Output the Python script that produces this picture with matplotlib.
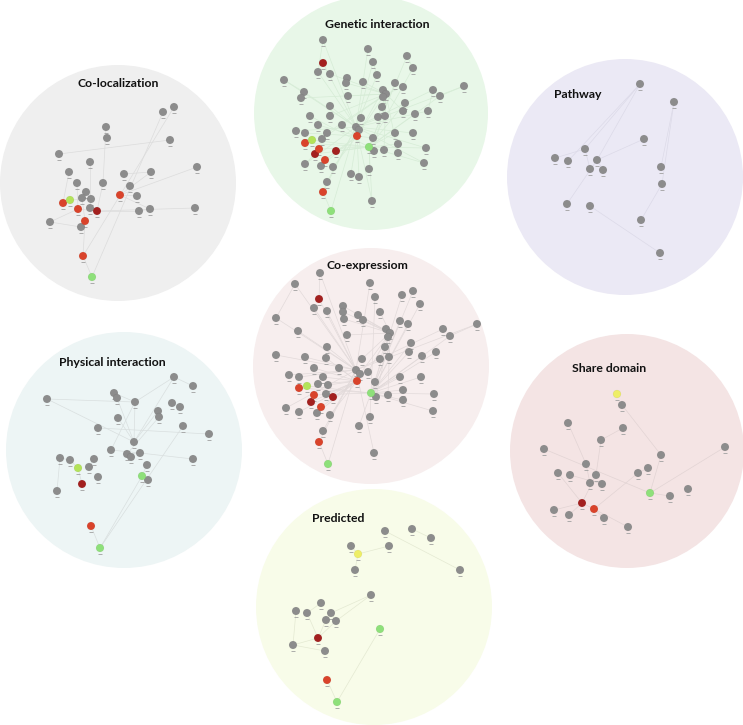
import matplotlib.pyplot as plt
from matplotlib.patches import Circle

# panel names
titles = ["Genetic interaction", "Co-localization", "Pathway", "Co-expressiom",
          "Physical interaction", "Share domain", "Predicted"]

# node positions (image pixels) and kinds: g gray, d dark red, r red, l light green, o green, y yellow
gen_x = [323, 368, 373, 407, 413, 318, 330, 347, 346, 284, 363, 377, 395, 403, 433, 464, 440, 304, 301, 348,
         383, 386, 383, 405, 330, 382, 403, 428, 310, 330, 361, 378, 385, 415, 318, 342, 356, 359, 296, 305,
         327, 395, 413, 373, 322, 398, 374, 384, 398, 426, 305, 321, 333, 424, 369, 351, 359, 327, 372,
         323, 336, 315, 357, 305, 319, 325, 323, 312, 369, 331]
gen_y = [40, 49, 62, 56, 68, 72, 74, 78, 83, 80, 82, 75, 83, 87, 90, 86, 96, 92, 98, 96,
         90, 94, 97, 103, 106, 107, 111, 111, 116, 116, 118, 117, 116, 114, 125, 125, 127, 130, 131, 133,
         133, 133, 133, 138, 139, 144, 151, 150, 153, 148, 164, 166, 167, 163, 169, 174, 177, 182, 201,
         63, 151, 154, 136, 143, 149, 160, 192, 140, 147, 211]
gen_k = "g" * 59 + "ddd" + "rrrrr" + "loo"
gen_e = ("36-0 36-1 36-2 36-5 36-9 36-11 36-15 36-17 36-24 36-27 36-38 36-42 36-50 36-53 36-57 36-58 36-59 "
         "36-66 36-69 36-14 36-49 68-3 68-4 68-12 68-16 68-23 68-33 68-41 68-45 68-49 68-53 68-54 68-58 "
         "68-63 68-64 68-60 68-61 68-67 68-28 21-6 21-8 21-10 21-13 21-18 21-19 21-25 21-26 21-29 21-31 "
         "21-32 21-40 21-44 21-46 21-47 21-48 62-34 62-35 62-39 62-55 62-56 62-65 62-51 62-52 62-20 62-22 "
         "62-30 62-37 62-43 66-69 67-63 64-61 60-65 9-17 0-5 15-16 14-27 50-61 57-66 2-11 3-4")

col_x = [174, 163, 106, 107, 170, 59, 90, 197, 69, 151, 124, 77, 103, 130, 86, 82, 91, 137, 90, 139,
         150, 195, 50, 81, 63, 78, 120, 85, 83, 97, 70, 92]
col_y = [107, 112, 127, 138, 140, 154, 162, 167, 172, 172, 174, 183, 183, 186, 192, 198, 199, 196, 208, 211,
         209, 208, 222, 227, 203, 209, 195, 221, 256, 211, 200, 277]
col_k = "g" * 24 + "rrrrr" + "d" + "lo"
col_e = ("1-31 0-28 5-4 10-9 29-21 24-30 30-16 26-17 29-19 22-25 22-23 23-27 27-28 28-31 6-18 25-29 "
         "12-29 14-16 11-25 2-12 9-26 20-26 15-27 8-24 19-20 7-26")

path_x = [640, 674, 644, 585, 555, 568, 597, 590, 603, 661, 662, 567, 590, 641, 660]
path_y = [84, 102, 139, 149, 158, 161, 160, 169, 170, 167, 184, 204, 206, 220, 253]
path_k = "g" * 15
path_e = "0-3 0-6 0-5 1-9 1-10 2-6 6-11 12-14 10-13 3-7 6-8 3-4"

exp_x = [320, 295, 370, 375, 402, 413, 420, 314, 327, 343, 343, 344, 358, 363, 380, 400, 408, 477, 276, 298,
         386, 390, 388, 347, 443, 450, 411, 327, 385, 409, 422, 436, 276, 305, 326, 362, 380, 389, 314, 339,
         356, 360, 368, 289, 299, 323, 400, 421, 318, 328, 375, 403, 326, 388, 403, 434, 376, 286, 299, 317,
         330, 433, 370, 359, 323, 374,
         319, 333, 311, 299, 314, 321, 357, 319, 307, 371, 328]
exp_y = [273, 284, 283, 297, 295, 291, 304, 308, 311, 306, 312, 319, 315, 320, 312, 321, 324, 324, 318, 331,
         329, 333, 337, 335, 329, 336, 343, 347, 347, 352, 356, 352, 355, 357, 358, 359, 359, 357, 368, 368,
         370, 374, 372, 375, 377, 377, 377, 377, 384, 385, 382, 390, 394, 395, 400, 394, 397, 408, 412, 413,
         415, 411, 417, 426, 431, 453,
         299, 397, 402, 388, 395, 407, 381, 442, 386, 393, 464]
exp_k = "g" * 66 + "ddd" + "rrrrr" + "loo"
exp_e = ("40-0 40-1 40-2 40-7 40-8 40-18 40-19 40-27 40-32 40-33 40-43 40-44 40-57 40-64 40-66 40-73 40-76 "
         "40-65 40-17 40-24 75-3 75-4 75-5 75-6 75-15 75-16 75-25 75-26 75-29 75-30 75-31 75-46 75-47 75-51 "
         "75-54 75-55 75-61 75-62 75-63 75-69 75-70 75-74 21-9 21-10 21-11 21-12 21-13 21-14 21-20 21-22 "
         "21-23 21-28 21-35 21-36 21-37 21-41 21-42 21-50 21-53 21-56 72-34 72-38 72-39 72-45 72-48 72-49 "
         "72-52 72-59 72-60 72-58 72-67 72-68 72-71 73-76 0-66 1-18 17-25")

phy_x = [174, 193, 47, 114, 117, 135, 172, 180, 158, 159, 118, 183, 98, 209, 134, 111, 127, 131, 140, 60,
         70, 94, 193, 89, 147, 98, 148, 57, 78, 142, 100, 82, 91]
phy_y = [377, 386, 399, 393, 398, 402, 403, 407, 411, 417, 418, 426, 428, 434, 442, 450, 454, 457, 453, 458,
         460, 459, 459, 467, 465, 477, 480, 491, 468, 476, 548, 484, 526]
phy_k = "g" * 28 + "loo" + "dr"
phy_e = ("2-5 2-14 5-0 0-1 0-14 5-14 12-13 18-22 11-30 29-30 30-32 19-27 19-20 20-28 16-18 15-18 5-15 "
         "3-5 8-14 6-7 24-29 26-29 21-23 31-28 10-14 4-14 9-16")

sha_x = [617, 622, 568, 623, 601, 544, 725, 661, 586, 648, 638, 558, 570, 596, 590, 602, 688, 670, 554, 569,
         604, 628, 650, 582, 594]
sha_y = [394, 405, 423, 428, 440, 449, 447, 455, 464, 468, 473, 473, 475, 475, 483, 484, 489, 496, 510, 515,
         518, 527, 493, 503, 509]
sha_k = "y" + "g" * 21 + "o" + "dr"
sha_e = ("5-22 6-22 1-7 7-22 3-4 4-13 2-8 8-14 23-24 23-18 24-20 24-21 10-24 13-23 11-23 12-15 19-23 "
         "22-17 9-10")

pre_x = [385, 412, 431, 351, 389, 355, 460, 371, 321, 296, 307, 331, 326, 336, 293, 325, 358, 380, 337, 318, 327]
pre_y = [531, 529, 538, 546, 546, 570, 570, 595, 603, 611, 613, 613, 620, 621, 645, 651, 554, 629, 702, 638, 680]
pre_k = "g" * 16 + "yoodr"
pre_e = "0-6 1-2 16-4 3-16 16-5 7-11 7-13 9-14 14-15 14-19 19-13 17-18 18-20 8-10 10-19 12-19 11-13"

# layout of the seven circles: center x, center y, radius, fill, edge colour, title position
panels = [
    (gen_x, gen_y, gen_k, gen_e, (371, 113, 117), "#e8f7e8", "#d6ecd6", (377, 24)),
    (col_x, col_y, col_k, col_e, (118, 183, 118), "#efefef", "#dcdcdc", (118, 83)),
    (path_x, path_y, path_k, path_e, (625, 177, 118), "#ebe9f5", "#dcdae8", (578, 94)),
    (exp_x, exp_y, exp_k, exp_e, (371, 366, 118), "#f7eeee", "#e2dada", (367, 265)),
    (phy_x, phy_y, phy_k, phy_e, (124, 450, 118), "#edf5f5", "#d9dfdf", (112, 362)),
    (sha_x, sha_y, sha_k, sha_e, (627, 451, 117), "#f4e4e4", "#e2d4d4", (609, 368)),
    (pre_x, pre_y, pre_k, pre_e, (374, 607, 118), "#f8fce9", "#e4e9d2", (338, 519)),
]

node_colors = {"g": "#8c8c8c", "d": "#a3201f", "r": "#d9432b", "l": "#b3e35a",
               "o": "#8ee07a", "y": "#eeee66"}

fig = plt.figure(figsize=(7.43, 7.25), dpi=100)
ax = fig.add_axes([0, 0, 1, 1])
ax.set_xlim(0, 743)
ax.set_ylim(725, 0)
ax.set_aspect("equal")
ax.axis("off")

for (xs, ys, kinds, edges, (cx, cy, r), fill, ecol, (tx, ty)), title in zip(panels, titles):
    ax.add_patch(Circle((cx, cy), r, facecolor=fill, edgecolor="none", zorder=0))
    for pair in edges.split():
        a, b = [int(v) for v in pair.split("-")]
        ax.plot([xs[a], xs[b]], [ys[a], ys[b]], color=ecol, lw=0.5, zorder=1)
    # tiny label bars under the nodes
    ax.scatter(xs, [y + 5.5 for y in ys], marker="_", s=9, color="#a0a0a0", lw=0.6, zorder=2)
    ax.scatter(xs, ys, s=32, c=[node_colors[k] for k in kinds],
               edgecolors="#00000018", linewidths=0.3, zorder=3)
    ax.text(tx, ty, title, ha="center", va="center", fontsize=8.8,
            fontweight="bold", family=["Lato", "DejaVu Sans"], color="#111111", zorder=4)

fig.savefig("out.png", dpi=100)
